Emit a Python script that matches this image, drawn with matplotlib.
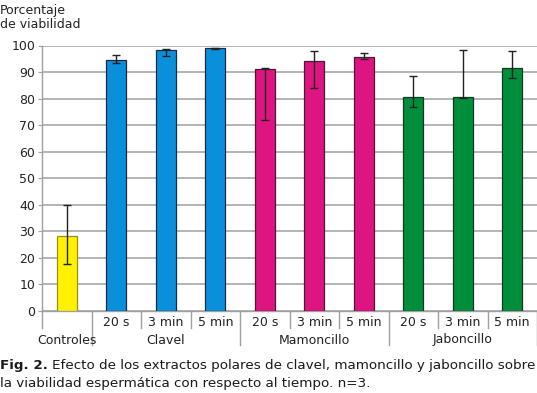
import numpy as np
import matplotlib
matplotlib.use("Agg")
import matplotlib.pyplot as plt
import matplotlib.transforms as mtransforms

# Datos
grupos = ["Controles", "Clavel", "Mamoncillo", "Jaboncillo"]
tiempos = ["", "20 s", "3 min", "5 min", "20 s", "3 min", "5 min", "20 s", "3 min", "5 min"]
grupo_barra = [0, 1, 1, 1, 2, 2, 2, 3, 3, 3]
viabilidad = [28.2, 94.7, 98.2, 99.0, 91.2, 94.0, 95.7, 80.5, 80.6, 91.5]
err_inf = [10.5, 1.4, 2.0, 0.2, 19.4, 9.9, 0.6, 3.7, 0.3, 3.8]
err_sup = [11.6, 1.7, 0.4, 0.1, 0.2, 3.9, 1.4, 8.2, 17.8, 6.6]
yticks = [0, 10, 20, 30, 40, 50, 60, 70, 80, 90, 100]

colores = ["#FFF200", "#0A8FDA", "#DE1480", "#008E3C"]
bordes = ["#9a8f1a", "#1c2a44", "#4a1a35", "#123a22"]

W, H = 537, 393
fig = plt.figure(figsize=(W / 100, H / 100), dpi=100)
plt.rcParams["font.family"] = "DejaVu Sans"
fs = 9

# ejes en pixeles
x0, x1 = 42, 537
y_top, y_bot = 45.5, 311
ax = fig.add_axes([x0 / W, (H - y_bot) / H, (x1 - x0) / W, (y_bot - y_top) / H])

x = np.arange(len(viabilidad))
ax.bar(x, viabilidad, width=0.4,
       color=[colores[g] for g in grupo_barra],
       edgecolor=[bordes[g] for g in grupo_barra], linewidth=0.9, zorder=3)
ax.errorbar(x, viabilidad, yerr=[err_inf, err_sup], fmt="none", ecolor="#222222",
            elinewidth=1.0, capsize=3, capthick=1.0, zorder=4)

ax.set_xlim(-0.5, len(viabilidad) - 0.5)
ax.set_ylim(0, 100)
ax.set_yticks(yticks)
ax.yaxis.grid(True, color="#a8a8a8", linewidth=1.2, zorder=0)
ax.set_axisbelow(True)
for s in ["top", "right"]:
    ax.spines[s].set_visible(False)
ax.spines["left"].set_color("#a0a0a0")
ax.spines["bottom"].set_color("#a0a0a0")
ax.spines["left"].set_linewidth(1.0)
ax.spines["bottom"].set_linewidth(1.0)
ax.tick_params(axis="y", length=3, color="#a0a0a0", labelsize=fs, labelcolor="#222222", pad=2)
ax.set_xticks([])

# ejes de categorias jerarquicas
alto = y_bot - y_top
trans = mtransforms.blended_transform_factory(ax.transData, ax.transAxes)
bordes_grupo = [0.5, 3.5, 6.5, 9.5]
for b in np.arange(-0.5, len(viabilidad), 1.0):
    largo = 34 if b in bordes_grupo else 17
    ax.plot([b, b], [0, -largo / alto], transform=trans, color="#a0a0a0",
            linewidth=1.0, clip_on=False)

for i, t in enumerate(tiempos):
    if t:
        ax.text(i, -11 / alto, t, transform=trans, ha="center", va="center",
                fontsize=fs, color="#222222")

ax.text(0, -29 / alto, grupos[0], transform=trans, ha="center", va="center",
        fontsize=fs, color="#222222")
for g in range(1, len(grupos)):
    pos = np.mean([i for i, gb in enumerate(grupo_barra) if gb == g])
    ax.text(pos, -29 / alto, grupos[g], transform=trans, ha="center", va="center",
            fontsize=fs, color="#222222")

# titulo del eje y
fig.text(0, 1 - 4 / H, "Porcentaje\nde viabilidad", ha="left", va="top",
         fontsize=fs, color="#222222", linespacing=1.05)

# leyenda de la figura
fig.canvas.draw()
r = fig.canvas.get_renderer()
t1 = fig.text(0, 1 - 366 / H, "Fig. 2.", ha="left", va="center", fontsize=9.7,
              fontweight="bold", color="#1a1a1a")
bb = t1.get_window_extent(renderer=r)
fig.text(bb.x1 / W + 4 / W, 1 - 366 / H,
         "Efecto de los extractos polares de clavel, mamoncillo y jaboncillo sobre",
         ha="left", va="center", fontsize=9.7, color="#1a1a1a")
fig.text(0, 1 - 383 / H, "la viabilidad espermática con respecto al tiempo. n=3.",
         ha="left", va="center", fontsize=9.7, color="#1a1a1a")

fig.savefig("out.png", dpi=100)
